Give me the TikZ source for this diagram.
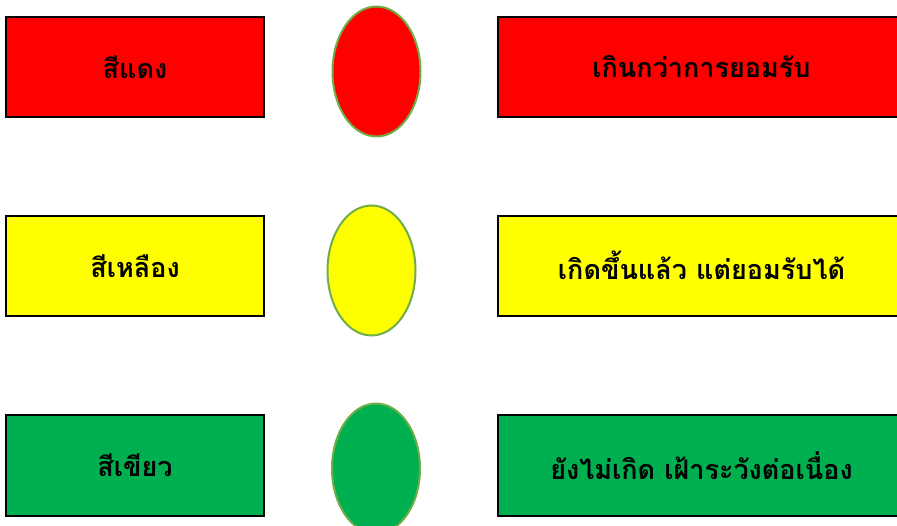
\documentclass[tikz,border=0pt]{standalone}
\usepackage{fontspec}
\newfontfamily\thaifont[Script=Thai]{Loma}
\usetikzlibrary{shapes.geometric}
\definecolor{cred}{HTML}{FF0000}
\definecolor{cyellow}{HTML}{FFFF00}
\definecolor{cgreen}{HTML}{00B050}
\definecolor{ringgreen}{HTML}{70AD47}
\tikzset{
  label box/.style={rectangle, draw=black, line width=2pt, minimum width=258pt, minimum height=100pt, inner sep=0pt, font=\thaifont\bfseries\fontsize{27}{32}\selectfont},
  state box/.style={rectangle, draw=black, line width=2pt, minimum width=407pt, minimum height=100pt, inner sep=0pt, font=\thaifont\bfseries\fontsize{27}{32}\selectfont},
  lamp/.style={ellipse, draw=ringgreen, line width=2pt, minimum width=88pt, minimum height=130pt, inner sep=0pt}
}
\begin{document}
\begin{tikzpicture}[x=1pt,y=-1pt]
\useasboundingbox (0,0) rectangle (897,526);
\clip (0,0) rectangle (897,526);
\node[label box, fill=cred] (l1) at (135,66.7) {\raisebox{-2pt}{สีแดง}};
\node[label box, fill=cyellow] (l2) at (135,265.7) {\raisebox{-2pt}{สีเหลือง}};
\node[label box, fill=cgreen] (l3) at (135,465.5) {\raisebox{-2pt}{สีเขียว}};
\node[lamp, fill=cred] (e1) at (376.5,71.5) {};
\node[lamp, fill=cyellow] (e2) at (371.5,270.5) {};
\node[lamp, fill=cgreen] (e3) at (376,468.5) {};
\node[state box, fill=cred] (r1) at (701.5,66.7) {\raisebox{-2pt}{เกินกว่าการยอมรับ}};
\node[state box, fill=cyellow] (r2) at (701.5,265.7) {\raisebox{-2pt}{เกิดขึ้นแล้ว แต่ยอมรับได้}};
\node[state box, fill=cgreen] (r3) at (701.5,465.5) {\raisebox{-2pt}{ยังไม่เกิด เฝ้าระวังต่อเนื่อง}};
\end{tikzpicture}
\end{document}
